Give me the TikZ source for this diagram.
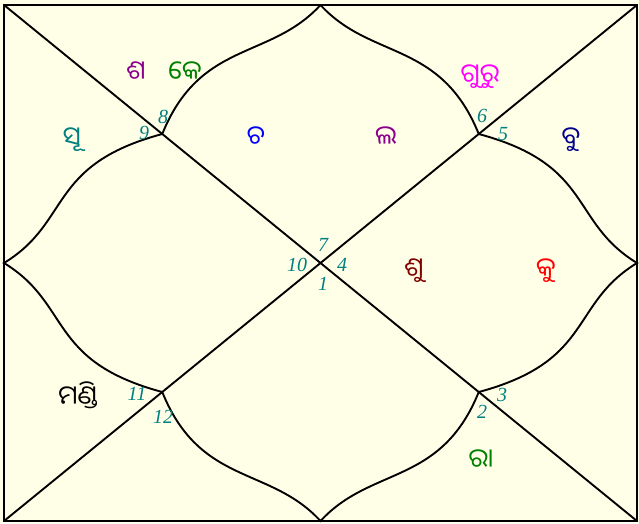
\documentclass[tikz,border=0pt]{standalone}
\usepackage{fontspec}
\setmainfont{Liberation Serif}
\newfontfamily\oriya[Script=Oriya]{Noto Sans Oriya UI}
\definecolor{chartbg}{RGB}{255,255,232}
\definecolor{numteal}{RGB}{0,128,128}
\definecolor{gpurple}{RGB}{139,0,139}
\definecolor{ggreen}{RGB}{0,128,0}
\definecolor{gmagenta}{RGB}{255,0,255}
\definecolor{gblue}{RGB}{0,0,255}
\definecolor{gnavy}{RGB}{0,0,139}
\definecolor{gmaroon}{RGB}{128,0,0}
\definecolor{gred}{RGB}{255,0,0}

\begin{document}
\begin{tikzpicture}[x=1pt, y=-1pt,
  house/.style={draw=black, line width=1.9pt},
  num/.style={text=numteal, font=\fontsize{20}{20}\selectfont\itshape, inner sep=0pt},
  graha/.style={font=\oriya\fontsize{26}{26}\selectfont, inner sep=0pt}
]
  %% Background and frame
  \fill[chartbg] (0,0) rectangle (639,523);
  \useasboundingbox (0,0) rectangle (639,523);

  \begin{scope}[shift={(4,5)}, x=633pt, y=-516pt]
    \coordinate (tl) at (0,0);
    \coordinate (tr) at (1,0);
    \coordinate (bl) at (0,1);
    \coordinate (br) at (1,1);
    \coordinate (T) at (0.5,0);
    \coordinate (L) at (0,0.5);
    \coordinate (B) at (0.5,1);
    \coordinate (R) at (1,0.5);
    \coordinate (q1) at (0.25,0.25);
    \coordinate (q2) at (0.75,0.25);
    \coordinate (q3) at (0.25,0.75);
    \coordinate (q4) at (0.75,0.75);

    %% Diagonals
    \draw[house] (tl) -- (br);
    \draw[house] (tr) -- (bl);

    %% Curved diamond
    \draw[house] (T) .. controls (0.42,0.107) and (0.31,0.068) .. (q1)
      .. controls (0.068,0.31) and (0.107,0.42) .. (L)
      .. controls (0.107,0.58) and (0.068,0.69) .. (q3)
      .. controls (0.31,0.932) and (0.42,0.893) .. (B)
      .. controls (0.58,0.893) and (0.69,0.932) .. (q4)
      .. controls (0.932,0.69) and (0.893,0.58) .. (R)
      .. controls (0.893,0.42) and (0.932,0.31) .. (q2)
      .. controls (0.69,0.068) and (0.58,0.107) .. (T);

    %% Frame
    \draw[draw=black, line width=2.6pt] (tl) rectangle (br);
  \end{scope}

  %% House numbers
  \node[num] (h1) at (323,284) {1};
  \node[num] (h2) at (482,412) {2};
  \node[num] (h3) at (502,395) {3};
  \node[num] (h4) at (342,265) {4};
  \node[num] (h5) at (503,134) {5};
  \node[num] (h6) at (482,116) {6};
  \node[num] (h7) at (323,245) {7};
  \node[num] (h8) at (163,117) {8};
  \node[num] (h9) at (144,133) {9};
  \node[num] (h10) at (297,265) {10};
  \node[num] (h11) at (137,394) {11};
  \node[num] (h12) at (163,417) {12};

  %% Grahas
  \node[graha, text=gpurple] (sha) at (136,72) {ଶ};
  \node[graha, text=ggreen] (ke) at (185,72) {କେ};
  \node[graha, text=gmagenta] (guru) at (480,77) {ଗୁରୁ};
  \node[graha, text=numteal] (su) at (72,140) {ସୂ};
  \node[graha, text=gblue] (cha) at (256,137) {ଚ};
  \node[graha, text=gpurple] (la) at (386,137) {ଲ};
  \node[graha, text=gnavy] (bu) at (571,140) {ବୁ};
  \node[graha, text=gmaroon] (shu) at (414,271) {ଶୁ};
  \node[graha, text=gred] (ku) at (546,271) {କୁ};
  \node[graha, text=black] (man) at (78,395) {ମଣ୍ଡି};
  \node[graha, text=ggreen] (ra) at (481,460) {ରା};
\end{tikzpicture}
\end{document}
